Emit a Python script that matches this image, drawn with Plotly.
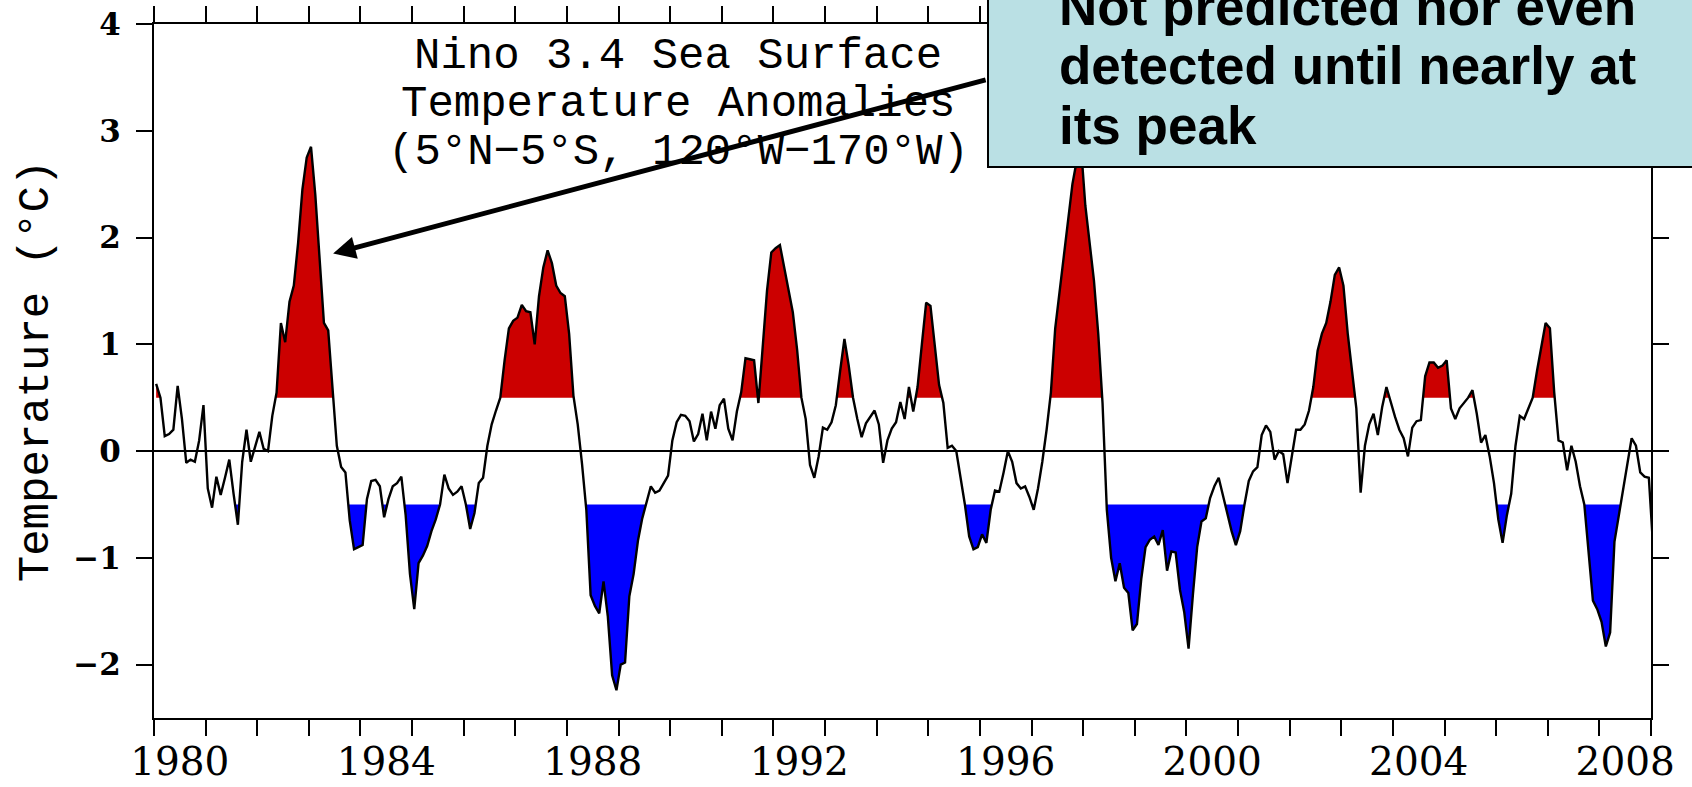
import plotly.graph_objects as go

# ---------------- data (monthly Nino 3.4 SST anomalies, degC) -------------
start_year = 1980
anom_1980s = [
    0.63, 0.50, 0.14, 0.16, 0.20, 0.61, 0.30, -0.11, -0.08, -0.10, 0.10, 0.43,      # 1980
    -0.35, -0.53, -0.24, -0.41, -0.25, -0.08, -0.40, -0.69, -0.10, 0.20, -0.10, 0.05,  # 1981
    0.18, 0.02, 0.00, 0.33, 0.55, 1.20, 1.02, 1.40, 1.55, 1.95, 2.45, 2.75,          # 1982
    2.85, 2.40, 1.80, 1.20, 1.13, 0.60, 0.05, -0.15, -0.20, -0.65, -0.92, -0.90,     # 1983
    -0.88, -0.45, -0.28, -0.27, -0.33, -0.62, -0.45, -0.33, -0.30, -0.24, -0.60, -1.15,  # 1984
    -1.48, -1.05, -0.98, -0.89, -0.75, -0.64, -0.50, -0.22, -0.35, -0.41, -0.38, -0.33,  # 1985
    -0.50, -0.73, -0.58, -0.30, -0.25, 0.05, 0.25, 0.38, 0.50, 0.85, 1.15, 1.22,     # 1986
    1.25, 1.37, 1.31, 1.30, 1.00, 1.45, 1.72, 1.88, 1.76, 1.55, 1.48, 1.45,          # 1987
    1.10, 0.52, 0.25, -0.12, -0.55, -1.35, -1.45, -1.52, -1.22, -1.55, -2.10, -2.24,  # 1988
    -2.00, -1.98, -1.36, -1.15, -0.84, -0.63, -0.47, -0.33, -0.39, -0.37, -0.30, -0.23,  # 1989
]
anom_1990s = [
    0.10, 0.27, 0.34, 0.33, 0.28, 0.09, 0.16, 0.35, 0.10, 0.37, 0.21, 0.43,         # 1990
    0.49, 0.21, 0.10, 0.37, 0.55, 0.87, 0.86, 0.85, 0.45, 0.95, 1.50, 1.86,          # 1991
    1.90, 1.93, 1.72, 1.50, 1.30, 0.95, 0.50, 0.30, -0.13, -0.25, -0.05, 0.22,       # 1992
    0.20, 0.27, 0.43, 0.75, 1.05, 0.80, 0.50, 0.30, 0.13, 0.26, 0.32, 0.38,          # 1993
    0.25, -0.11, 0.10, 0.21, 0.27, 0.46, 0.30, 0.60, 0.37, 0.60, 1.00, 1.39,         # 1994
    1.36, 1.00, 0.62, 0.45, 0.03, 0.05, 0.00, -0.25, -0.50, -0.80, -0.92, -0.90,     # 1995
    -0.78, -0.86, -0.55, -0.37, -0.38, -0.20, 0.00, -0.10, -0.30, -0.35, -0.33, -0.43,  # 1996
    -0.55, -0.35, -0.10, 0.20, 0.55, 1.15, 1.50, 1.85, 2.20, 2.50, 2.72, 2.85,       # 1997
    2.30, 1.95, 1.60, 1.10, 0.45, -0.55, -1.00, -1.22, -1.05, -1.28, -1.33, -1.68,   # 1998
    -1.62, -1.20, -0.90, -0.83, -0.80, -0.88, -0.74, -1.12, -0.94, -0.95, -1.30, -1.51,  # 1999
]
anom_2000s = [
    -1.85, -1.35, -0.90, -0.66, -0.63, -0.44, -0.33, -0.25, -0.42, -0.60, -0.75, -0.88,  # 2000
    -0.75, -0.50, -0.28, -0.19, -0.15, 0.15, 0.24, 0.18, -0.08, 0.00, -0.03, -0.30,  # 2001
    -0.05, 0.20, 0.20, 0.25, 0.38, 0.60, 0.94, 1.10, 1.20, 1.40, 1.65, 1.72,         # 2002
    1.55, 1.10, 0.75, 0.40, -0.39, 0.05, 0.25, 0.35, 0.15, 0.41, 0.60, 0.45,         # 2003
    0.32, 0.20, 0.12, -0.05, 0.22, 0.28, 0.29, 0.70, 0.83, 0.83, 0.78, 0.80,         # 2004
    0.85, 0.40, 0.30, 0.40, 0.45, 0.50, 0.57, 0.35, 0.08, 0.15, -0.05, -0.30,        # 2005
    -0.64, -0.86, -0.60, -0.40, 0.05, 0.33, 0.30, 0.40, 0.50, 0.75, 0.98, 1.20,      # 2006
    1.15, 0.55, 0.10, 0.08, -0.18, 0.05, -0.10, -0.33, -0.50, -0.95, -1.40, -1.48,   # 2007
    -1.60, -1.83, -1.70, -0.85, -0.60, -0.38, -0.10, 0.12, 0.05, -0.20, -0.24, -0.25,  # 2008
    -0.90,                                                                            # Jan 2009
]
warm_threshold = 0.5
cold_threshold = -0.5
year_ticks = list(range(1980, 2010))
label_years = [1980, 1984, 1988, 1992, 1996, 2000, 2004, 2008]
label_text = [str(y) for y in label_years]
y_ticks = [-2, -1, 0, 1, 2, 3, 4]
title_lines = ["Nino 3.4 Sea Surface", "Temperature Anomalies", "(5°N−5°S, 120°W−170°W)"]
note_lines = ["Not predicted nor even", "detected until nearly at", "its peak"]

# ---------------- derived series ----------------
values = anom_1980s + anom_1990s + anom_2000s
times = [start_year + (i + 0.5) / 12.0 for i in range(len(values))]


def band(t, v, thr, sign):
    """Polygons of the area between the curve and a threshold (sign=+1 above, -1 below)."""
    xs, ys = [], []
    seg = None
    for i in range(len(v)):
        d = sign * (v[i] - thr)
        if i > 0:
            dp = sign * (v[i - 1] - thr)
            if (dp > 0) != (d > 0):
                f = dp / (dp - d)
                tc = t[i - 1] + f * (t[i] - t[i - 1])
                if d > 0:
                    seg = [(tc, thr)]
                else:
                    seg.append((tc, thr))
                    xs += [p[0] for p in seg] + [None]
                    ys += [p[1] for p in seg] + [None]
                    seg = None
        elif d > 0:
            seg = [(t[0], thr)]
        if d > 0:
            seg.append((t[i], v[i]))
    if seg is not None:
        seg.append((t[-1], thr))
        xs += [p[0] for p in seg] + [None]
        ys += [p[1] for p in seg] + [None]
    return xs, ys


rx, ry = band(times, values, warm_threshold, 1)
bx, by = band(times, values, cold_threshold, -1)

fig = go.Figure()
fig.add_trace(go.Scatter(x=rx, y=ry, mode="lines", fill="toself", fillcolor="#cc0000",
                         line=dict(width=0), hoverinfo="skip", showlegend=False))
fig.add_trace(go.Scatter(x=bx, y=by, mode="lines", fill="toself", fillcolor="#0000ff",
                         line=dict(width=0), hoverinfo="skip", showlegend=False))
fig.add_trace(go.Scatter(x=times, y=values, mode="lines", line=dict(color="black", width=2.4),
                         showlegend=False))
# invisible trace so the label axis exists
fig.add_trace(go.Scatter(x=[year_ticks[0], year_ticks[-1]], y=[0, 0], xaxis="x2", mode="lines",
                         line=dict(width=0), hoverinfo="skip", showlegend=False))

W, H = 1692, 787
ml, mr, mt, mb = 154, 41, 24, 69
pw, ph = W - ml - mr, H - mt - mb


def px(xpix):
    return (xpix - ml) / pw


def py(ypix):
    return (H - mb - ypix) / ph


mono = "Liberation Mono"
annotations = []
title_y = [56, 104, 152]
for txt, yy in zip(title_lines, title_y):
    annotations.append(dict(text=txt, xref="paper", yref="paper", x=px(678), y=py(yy),
                            xanchor="center", yanchor="middle", showarrow=False,
                            font=dict(family=mono, size=44, color="black")))

note_y = [7, 66, 125]
for txt, yy in zip(note_lines, note_y):
    annotations.append(dict(text=txt, xref="paper", yref="paper", x=px(1057), y=py(yy),
                            xanchor="left", yanchor="middle", showarrow=False,
                            font=dict(family="Liberation Sans", size=53, color="black",
                                      weight="bold")))

# arrow pointing at the 1982-83 event
annotations.append(dict(text="", x=1983.47, y=1.85, xref="x", yref="y",
                        ax=654, ay=-174, axref="pixel", ayref="pixel",
                        showarrow=True, arrowhead=2, arrowsize=0.9, arrowwidth=5,
                        arrowcolor="black", standoff=0))

shapes = [dict(type="rect", xref="paper", yref="paper", x0=px(988), x1=1.1,
               y0=py(167), y1=1.2, fillcolor="#bae0e4",
               line=dict(color="black", width=2), layer="above")]

fig.update_layout(
    width=W, height=H,
    margin=dict(l=ml, r=mr, t=mt, b=mb, autoexpand=False),
    plot_bgcolor="white", paper_bgcolor="white",
    annotations=annotations, shapes=shapes,
    xaxis=dict(range=[1980, 2009], tickmode="array", tickvals=year_ticks,
               showticklabels=False, ticks="outside", ticklen=16, tickwidth=2,
               tickcolor="black", showline=True, linecolor="black", linewidth=2,
               mirror="ticks", showgrid=False, zeroline=False, automargin=False),
    xaxis2=dict(range=[1980, 2009], overlaying="x", side="bottom", anchor="y",
                tickmode="array", tickvals=[y + 0.5 for y in label_years],
                ticktext=label_text, ticks="", showline=False, showgrid=False,
                zeroline=False, ticklabelstandoff=17, automargin=False,
                tickfont=dict(family="DejaVu Serif", size=39, color="black")),
    yaxis=dict(range=[-2.5, 4], tickmode="array", tickvals=y_ticks,
               ticks="outside", ticklen=16, tickwidth=2, tickcolor="black",
               showline=True, linecolor="black", linewidth=2, mirror="ticks",
               showgrid=False, zeroline=True, zerolinecolor="black", zerolinewidth=2,
               automargin=False, ticklabelstandoff=9,
               tickfont=dict(family="DejaVu Serif", size=31, color="black", weight="bold"),
               title=dict(text="Temperature (°C)", standoff=11,
                          font=dict(family=mono, size=44, color="black"))),
)

fig.write_html("out.html")
